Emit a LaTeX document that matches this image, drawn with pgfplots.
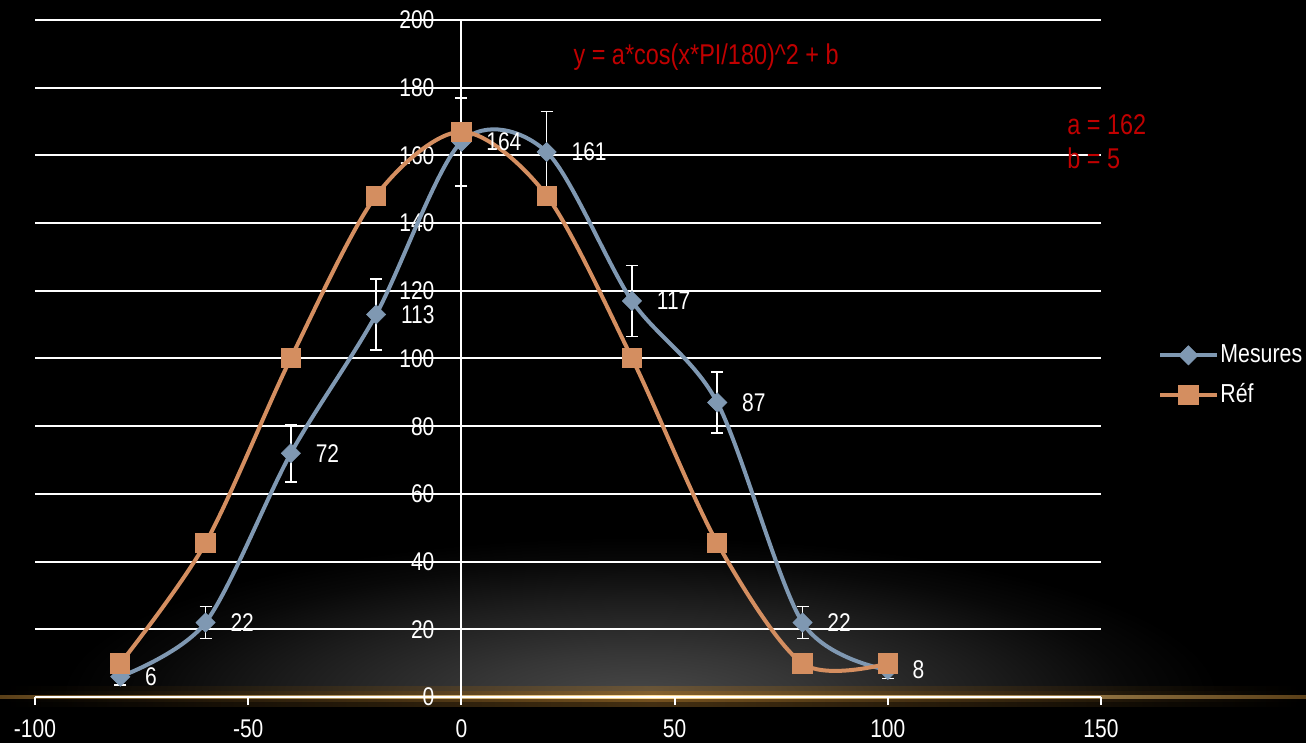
\documentclass[border=0pt]{standalone}
\usepackage{fontspec}
\setmainfont{Liberation Sans}[FakeStretch=0.82]
\usepackage{pgfplots}
\pgfplotsset{compat=1.18}
\definecolor{mes}{RGB}{127,152,178}
\definecolor{refc}{RGB}{212,142,96}
\definecolor{dred}{RGB}{192,0,0}
\definecolor{glowc}{RGB}{72,72,72}
\definecolor{goldband}{RGB}{150,105,40}
\definecolor{goldline}{RGB}{255,220,150}
\pgfdeclareradialshading{glow}{\pgfpoint{0bp}{0bp}}{color(0bp)=(glowc); color(7bp)=(glowc!75!black); color(15bp)=(glowc!40!black); color(21bp)=(glowc!12!black); color(25bp)=(black); color(50bp)=(black)}
\begin{document}
\begin{tikzpicture}
\useasboundingbox (0,0) rectangle (653bp,371.5bp);
\fill[black] (0,0) rectangle (653bp,371.5bp);
\begin{scope}
\clip (0,23bp) rectangle (653bp,371.5bp);
\shade[shading=glow] (320bp,23bp) ellipse [x radius=290bp, y radius=80bp];
\end{scope}
\shade[left color=black, right color=black, middle color=goldband, opacity=0.45] (0,18bp) rectangle (653bp,28bp);
\shade[left color=black, right color=black, middle color=goldband, opacity=0.6] (0,20.5bp) rectangle (653bp,25.5bp);
\shade[left color=goldband!60!black, right color=goldband!60!black, middle color=goldline] (0,22.4bp) rectangle (653bp,23.6bp);
\begin{axis}[
  at={(17.5bp,23bp)}, anchor=south west, scale only axis,
  width=533bp, height=338.5bp,
  xmin=-100, xmax=150, ymin=0, ymax=200,
  axis x line=bottom, axis y line=center,
  hide obscured x ticks=false, hide obscured y ticks=false,
  axis line style={white, line width=1bp, -},
  every inner y axis line/.append style={-},
  every outer x axis line/.append style={-},
  xtick={-100,-50,...,150}, ytick={0,20,...,200},
  x tick style={white, line width=1bp},
  y tick style={draw=none},
  major tick length=4bp, tick align=outside,
  ymajorgrids, grid style={white, line width=1bp},
  tick label style={text=white, font=\fontsize{12.8bp}{15bp}\selectfont},
  xticklabel style={yshift=-4bp},
  yticklabel style={xshift=-6bp},
  /pgf/number format/assume math mode=true,
  clip=false,
  legend style={at={(1.0535,0.475)}, anchor=west, draw=none, fill=none,
    text=white, font=\fontsize{13bp}{15bp}\selectfont, row sep=7bp,
    inner sep=0pt, nodes={inner sep=1bp}},
  legend cell align=left,
  legend image code/.code={\draw[#1, mark repeat=2, mark phase=2] plot coordinates {(0bp,0bp)(14bp,0bp)(28bp,0bp)};},
]
\addplot[mes, line width=2bp, smooth, mark=square*,
  mark size=3.4bp, mark options={rotate=45, fill=mes, draw=mes, line width=0.3bp},
  nodes near coords,
  every node near coord/.append style={anchor=west, xshift=9bp, text=white, font=\fontsize{12.8bp}{15bp}\selectfont},
  error bars/.cd, y dir=both, y explicit,
  error bar style={white, line width=0.75bp},
  error mark options={rotate=90, mark size=3bp, white, line width=0.75bp}]
coordinates {
(-80,6) +- (0,2.5)
(-60,22) +- (0,4.7)
(-40,72) +- (0,8.5)
(-20,113) +- (0,10.5)
(0,164) +- (0,13)
(20,161) +- (0,12)
(40,117) +- (0,10.5)
(60,87) +- (0,9)
(80,22) +- (0,4.7)
(100,8) +- (0,2.5)
};
\addlegendentry{Mesures}
\addplot[refc, line width=2bp, smooth, mark=square*, mark size=4.8bp,
  mark options={fill=refc, draw=refc, line width=0pt}]
coordinates {
(-80,9.9) (-60,45.5) (-40,100.1) (-20,148.1) (0,167) (20,148.1)
(40,100.1) (60,45.5) (80,9.9) (100,9.9)
};
\addlegendentry{Réf}
\node[text=dred, font=\fontsize{14.3bp}{16bp}\selectfont] at (axis cs:57.4,189.1) {y = a*cos(x*PI/180)\textasciicircum2 + b};
\node[text=dred, anchor=west, inner sep=0pt, font=\fontsize{14.3bp}{16bp}\selectfont] at (axis cs:142,169) {a = 162};
\node[text=dred, anchor=west, inner sep=0pt, font=\fontsize{14.3bp}{16bp}\selectfont] at (axis cs:142,159.2) {b = 5};
\end{axis}
\end{tikzpicture}
\end{document}
